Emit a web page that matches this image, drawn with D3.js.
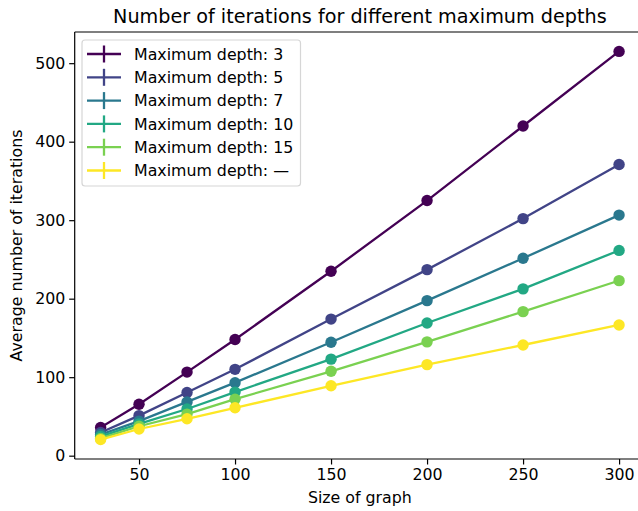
<!DOCTYPE html>
<html>
<head>
<meta charset="utf-8">
<script src="https://cdn.jsdelivr.net/npm/d3@7"></script>
<style>
  html, body { margin: 0; padding: 0; background: #fff; }
  svg { display: block; font-family: "DejaVu Sans", sans-serif; }
</style>
</head>
<body>
<svg id="chart" width="638" height="511"></svg>
<script>
// ---- data ----
const sizes = [30, 50, 75, 100, 150, 200, 250, 300];
const seriesNames = ["Maximum depth: 3", "Maximum depth: 5", "Maximum depth: 7", "Maximum depth: 10", "Maximum depth: 15", "Maximum depth: \u2014"];
const depth3  = [36, 65.5, 106.5, 148, 235, 325, 420, 515];
const depth5  = [29.5, 51, 80.5, 110, 174, 237, 302, 371];
const depth7  = [27, 44, 68.5, 93, 144.5, 197.5, 251.5, 306.5];
const depth10 = [24.5, 40.5, 59.5, 81, 123, 169, 212.5, 261.5];
const depth15 = [22, 37.5, 53, 72, 107.5, 145, 183.5, 223];
const depthNone = [20.5, 34, 47, 61, 89, 116, 141, 166.5];
const seriesValues = [depth3, depth5, depth7, depth10, depth15, depthNone];
const colors = ["#440154", "#414487", "#2a788e", "#22a884", "#7ad151", "#fde725"];
const xTicks = [50, 100, 150, 200, 250, 300];
const yTicks = [0, 100, 200, 300, 400, 500];
const titleText = "Number of iterations for different maximum depths";
const xLabel = "Size of graph";
const yLabel = "Average number of iterations";

(function () {
// ---- layout ----
const svg = d3.select("#chart");
const pLeft = 74.7, pRight = 645, pTop = 32, pBottom = 459;

const xMin = d3.min(sizes), xMax = d3.max(sizes);
const allY = seriesValues.flat();
const yMin = d3.min(allY), yMax = d3.max(allY);
const xPad = (xMax - xMin) * 0.05, yPad = (yMax - yMin) * 0.05;

const x = d3.scaleLinear().domain([xMin - xPad, xMax + xPad]).range([pLeft, pRight]);
const y = d3.scaleLinear().domain([yMin - yPad, yMax + yPad]).range([pBottom, pTop]);

// series
seriesValues.forEach((vals, i) => {
  const pts = sizes.map((s, j) => [s, vals[j]]);
  const g = svg.append("g");
  g.append("path")
    .attr("d", d3.line().x(d => x(d[0])).y(d => y(d[1]))(pts))
    .attr("fill", "none")
    .attr("stroke", colors[i])
    .attr("stroke-width", 2.3)
    .attr("stroke-linecap", "square");
  g.selectAll("circle").data(pts).enter().append("circle")
    .attr("cx", d => x(d[0]))
    .attr("cy", d => y(d[1]))
    .attr("r", 5.7)
    .attr("fill", colors[i]);
});

// axes
const fontSize = 15.8;
const xAxis = svg.append("g")
  .attr("transform", `translate(0,${pBottom})`)
  .call(d3.axisBottom(x).tickValues(xTicks).tickSize(5.5).tickPadding(3.8).tickSizeOuter(0));
const yAxis = svg.append("g")
  .attr("transform", `translate(${pLeft},0)`)
  .call(d3.axisLeft(y).tickValues(yTicks).tickSize(5.5).tickPadding(3.8).tickSizeOuter(0));
[xAxis, yAxis].forEach(a => {
  a.selectAll("text").attr("font-size", fontSize).attr("font-family", "DejaVu Sans").attr("fill", "#000");
  a.selectAll("line").attr("stroke", "#000").attr("stroke-width", 1.2);
  a.select(".domain").remove();
});

// spines
const spines = svg.append("g").attr("fill", "none").attr("stroke", "#000").attr("stroke-width", 1.2);
spines.append("line").attr("x1", pLeft).attr("x2", pRight).attr("y1", pBottom).attr("y2", pBottom);
spines.append("line").attr("x1", pLeft).attr("x2", pRight).attr("y1", pTop).attr("y2", pTop);
spines.append("line").attr("x1", pLeft).attr("x2", pLeft).attr("y1", pTop).attr("y2", pBottom);
spines.append("line").attr("x1", pRight).attr("x2", pRight).attr("y1", pTop).attr("y2", pBottom);

// title and labels
const cx = (pLeft + pRight) / 2;
svg.append("text").attr("x", cx).attr("y", 23).attr("text-anchor", "middle")
  .attr("font-size", 19.2).text(titleText);
svg.append("text").attr("x", cx).attr("y", 503).attr("text-anchor", "middle")
  .attr("font-size", fontSize).text(xLabel);
svg.append("text").attr("transform", `translate(22,${(pTop + pBottom) / 2}) rotate(-90)`)
  .attr("text-anchor", "middle").attr("font-size", fontSize).text(yLabel);

// legend
const lg = svg.append("g");
lg.append("rect").attr("x", 82).attr("y", 40).attr("width", 218.5).attr("height", 146)
  .attr("rx", 3).attr("fill", "#fff").attr("fill-opacity", 0.8)
  .attr("stroke", "#d6d6d6").attr("stroke-width", 1.2);
seriesNames.forEach((name, i) => {
  const cy = 54 + i * 23.3;
  lg.append("line").attr("x1", 87).attr("x2", 121).attr("y1", cy).attr("y2", cy)
    .attr("stroke", colors[i]).attr("stroke-width", 2.3);
  lg.append("line").attr("x1", 104).attr("x2", 104).attr("y1", cy - 8.5).attr("y2", cy + 8.5)
    .attr("stroke", colors[i]).attr("stroke-width", 2.3);
  lg.append("text").attr("x", 134).attr("y", cy + 5.6).attr("font-size", fontSize).text(name);
});
})();
</script>
</body>
</html>
